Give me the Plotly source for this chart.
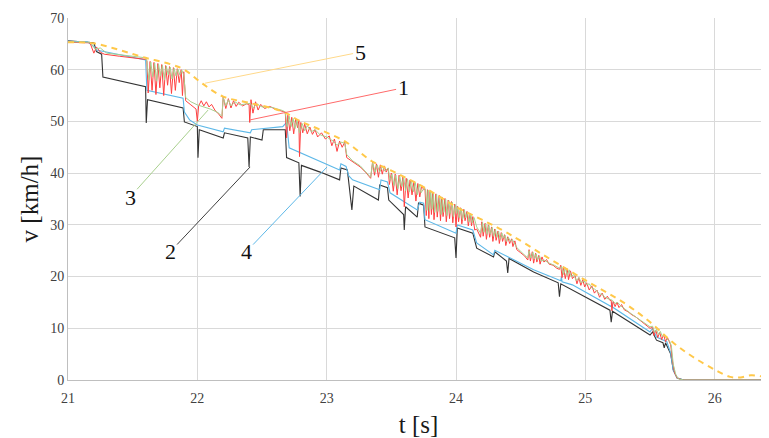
import plotly.graph_objects as go

# ---------------- data ----------------
x_ticks = [21, 22, 23, 24, 25, 26]
y_ticks = [0, 10, 20, 30, 40, 50, 60, 70]

# series 5 : dashed reference curve
s5_points = [(21.0, 65.3), (21.2, 65.1), (21.4, 63.8), (21.6, 62.3), (21.8, 61.0), (21.9, 60.0),
             (22.04, 57.3), (22.2, 54.8), (22.4, 53.6), (22.65, 52.0), (22.8, 50.0), (22.95, 48.4),
             (23.15, 46.0), (23.35, 42.3), (23.5, 40.5), (23.75, 37.3), (24.0, 33.5), (24.2, 31.0),
             (24.4, 28.4), (24.7, 23.8), (25.0, 19.3), (25.3, 14.9), (25.5, 11.2), (25.68, 7.2),
             (25.83, 4.5), (26.0, 2.0), (26.12, 0.6), (26.2, 0.5), (26.28, 0.9), (26.36, 0.7),
             (26.42, 0.3)]

# series 4 : blue
s4_points = [(21.0, 65.5), (21.15, 65.4), (21.2, 64.5), (21.22, 63.8), (21.6, 61.9), (21.61, 56.0),
             (21.89, 54.5), (21.9, 51.8), (21.94, 50.3), (22.0, 49.3), (22.2, 48.0), (22.21, 48.7),
             (22.41, 47.8), (22.42, 48.4), (22.66, 49.0), (22.69, 49.8), (22.71, 44.9), (22.95, 42.2),
             (23.1, 40.6), (23.11, 41.8), (23.15, 41.3), (23.17, 39.5), (23.2, 38.7), (23.41, 36.8),
             (23.42, 38.7), (23.47, 38.3), (23.49, 36.2), (23.7, 32.9), (23.72, 34.4), (23.75, 34.2),
             (23.76, 31.0), (24.0, 28.4), (24.01, 30.0), (24.13, 29.0), (24.16, 26.5), (24.29, 24.2),
             (24.3, 25.1), (24.6, 21.3), (24.81, 19.2), (24.815, 20.0), (24.82, 19.0), (24.9, 18.4),
             (25.2, 14.2), (25.205, 15.0), (25.21, 14.1), (25.5, 9.3), (25.52, 10.0), (25.55, 8.3),
             (25.63, 7.4), (25.66, 5.2), (25.68, 1.9), (25.71, 0.4), (25.76, 0.0), (26.42, 0.0)]

# series 2 : black
s2_points = [(21.0, 65.6), (21.2, 65.2), (21.22, 63.5), (21.26, 63.0), (21.27, 58.6), (21.6, 56.7),
             (21.605, 49.7), (21.615, 54.2), (21.89, 52.6), (21.9, 49.9), (22.0, 49.0), (22.005, 43.0),
             (22.015, 48.4), (22.2, 46.8), (22.21, 47.8), (22.39, 46.8), (22.4, 41.2), (22.41, 47.0),
             (22.5, 46.4), (22.51, 48.4), (22.68, 48.4), (22.69, 43.0), (22.785, 42.0), (22.795, 35.5),
             (22.805, 41.5), (22.95, 40.2), (23.1, 38.7), (23.11, 41.0), (23.16, 40.6), (23.17, 38.1),
             (23.195, 32.9), (23.21, 37.5), (23.4, 34.8), (23.41, 37.7), (23.47, 37.2), (23.48, 34.8),
             (23.595, 32.0), (23.6, 29.0), (23.61, 33.5), (23.7, 31.5), (23.71, 34.2), (23.75, 33.8),
             (23.76, 29.6), (23.99, 27.5), (24.0, 23.6), (24.01, 29.4), (24.13, 28.4), (24.16, 25.5),
             (24.29, 23.8), (24.3, 24.8), (24.39, 23.0), (24.4, 20.7), (24.41, 23.5), (24.6, 20.9),
             (24.79, 18.8), (24.8, 16.1), (24.81, 18.6), (25.19, 13.5), (25.2, 11.2), (25.21, 13.3),
             (25.5, 8.7), (25.52, 9.3), (25.55, 7.7), (25.6, 7.2), (25.61, 6.2), (25.62, 7.2),
             (25.66, 5.0), (25.68, 1.9), (25.71, 0.4), (25.76, 0.0), (26.42, 0.0)]

# series 1 : red
s1_points = [(21.00, 65.3), (21.17, 65.2), (21.20, 63.2), (21.22, 64.4), (21.25, 63.4), (21.28, 63.0),
             (21.40, 62.6), (21.60, 62.0),
             (21.61, 61.8), (21.62, 55.5), (21.635, 61.6), (21.65, 56.0), (21.665, 61.4), (21.68, 55.2),
             (21.695, 61.2), (21.71, 56.5), (21.725, 61.0), (21.74, 55.0), (21.755, 60.8), (21.77, 57.0),
             (21.785, 60.6), (21.80, 55.4), (21.815, 60.4), (21.83, 56.0), (21.845, 60.2), (21.86, 57.5),
             (21.875, 60.0), (21.885, 55.0), (21.895, 59.6),
             (21.91, 54.0), (21.95, 53.2), (21.99, 52.4), (22.00, 50.0), (22.01, 53.0), (22.03, 54.0),
             (22.05, 53.0), (22.07, 53.8), (22.09, 52.8), (22.11, 53.3), (22.14, 52.0), (22.16, 51.6),
             (22.19, 50.6),
             (22.20, 54.8), (22.22, 52.5), (22.24, 54.4), (22.26, 52.6), (22.28, 54.0), (22.30, 52.9),
             (22.32, 53.7), (22.35, 53.0), (22.38, 53.4), (22.40, 53.3), (22.405, 49.8), (22.415, 54.2),
             (22.43, 51.6), (22.45, 53.8), (22.47, 52.2), (22.49, 53.3), (22.52, 52.5), (22.56, 52.9),
             (22.61, 52.3), (22.66, 52.0),
             (22.68, 51.8), (22.69, 46.8), (22.70, 51.2), (22.715, 48.2), (22.73, 50.8), (22.745, 47.6),
             (22.76, 50.5), (22.775, 48.8), (22.785, 50.2), (22.79, 43.2), (22.80, 49.8), (22.815, 47.8),
             (22.83, 49.5), (22.85, 47.6), (22.87, 48.9), (22.89, 47.5), (22.91, 48.4), (22.93, 47.0),
             (22.96, 47.8), (22.99, 46.6), (23.02, 47.2), (23.04, 45.3), (23.06, 46.6), (23.08, 44.2),
             (23.10, 46.2), (23.12, 45.0), (23.14, 46.0),
             (23.155, 43.0), (23.18, 42.6), (23.22, 42.0), (23.26, 41.2), (23.30, 40.2), (23.34, 39.0),
             (23.355, 42.2), (23.37, 39.6), (23.385, 41.8), (23.40, 39.2), (23.415, 41.6), (23.43, 39.8),
             (23.445, 41.4), (23.46, 40.2), (23.475, 41.0),
             (23.485, 37.8), (23.50, 40.0), (23.515, 36.5), (23.53, 39.8), (23.545, 35.8), (23.56, 39.6),
             (23.575, 36.6), (23.59, 39.3), (23.60, 33.5), (23.615, 39.0), (23.63, 35.2), (23.645, 38.7),
             (23.66, 35.8), (23.675, 38.4), (23.69, 34.6), (23.705, 38.0), (23.72, 35.4), (23.735, 37.6),
             (23.75, 36.8),
             (23.76, 37.0), (23.77, 31.8), (23.78, 36.8), (23.79, 31.2), (23.80, 36.5), (23.81, 32.0),
             (23.82, 36.3), (23.83, 31.0), (23.845, 36.0), (23.855, 31.5), (23.87, 35.7), (23.88, 30.8),
             (23.89, 35.4), (23.90, 31.6), (23.915, 35.1), (23.925, 30.6), (23.94, 34.8), (23.95, 31.2),
             (23.965, 34.5), (23.975, 30.4), (23.99, 34.0), (24.00, 29.6), (24.01, 33.6),
             (24.02, 30.6), (24.035, 33.3), (24.045, 30.2), (24.06, 33.0), (24.07, 30.8), (24.085, 32.6),
             (24.095, 29.8), (24.11, 32.2), (24.12, 29.8), (24.13, 31.6), (24.145, 29.0), (24.16, 29.2),
             (24.18, 28.0), (24.19, 27.6), (24.20, 30.6), (24.21, 27.8), (24.225, 30.3), (24.235, 27.2),
             (24.25, 30.0), (24.26, 27.6), (24.275, 29.6), (24.285, 26.8), (24.30, 29.2), (24.31, 27.0),
             (24.325, 28.8), (24.335, 26.4), (24.35, 28.5), (24.36, 26.8), (24.375, 28.1), (24.385, 26.0),
             (24.40, 27.7), (24.415, 26.4), (24.43, 27.3), (24.44, 25.8), (24.455, 26.9), (24.47, 25.2),
             (24.50, 24.6), (24.53, 24.0), (24.555, 23.2),
             (24.565, 25.2), (24.575, 23.0), (24.59, 24.8), (24.60, 22.6), (24.615, 24.5), (24.625, 22.8),
             (24.64, 24.1), (24.65, 22.4), (24.665, 23.8), (24.68, 22.8), (24.70, 23.3), (24.72, 22.4),
             (24.75, 22.2), (24.78, 21.6), (24.80, 21.4),
             (24.81, 22.2), (24.82, 19.8), (24.83, 21.9), (24.845, 19.6), (24.86, 21.5), (24.87, 19.4),
             (24.885, 21.1), (24.90, 19.6), (24.92, 20.2), (24.935, 18.6), (24.95, 19.8), (24.965, 18.3),
             (24.98, 19.4), (24.995, 18.0), (25.01, 18.8), (25.03, 17.4), (25.05, 18.2), (25.07, 16.8),
             (25.09, 17.4), (25.11, 16.0), (25.13, 16.8), (25.15, 15.6), (25.17, 16.2), (25.19, 15.4),
             (25.20, 15.4), (25.205, 13.4), (25.215, 15.2), (25.23, 14.2), (25.245, 15.0), (25.26, 14.0),
             (25.28, 14.6), (25.30, 13.6), (25.33, 13.2), (25.36, 12.6), (25.39, 12.2), (25.42, 11.6),
             (25.45, 11.0), (25.48, 10.4), (25.50, 10.0),
             (25.52, 10.2), (25.53, 8.6), (25.545, 9.6), (25.56, 8.2), (25.575, 9.2), (25.59, 7.8),
             (25.605, 8.8), (25.62, 7.4), (25.635, 8.2), (25.65, 7.2), (25.66, 6.8), (25.675, 3.5),
             (25.69, 1.4), (25.71, 0.4), (25.75, 0.0), (26.42, 0.0)]

# series 3 : green
s3_points = [(21.00, 65.4), (21.17, 65.3), (21.21, 64.0), (21.25, 64.2), (21.30, 63.2), (21.60, 62.3),
             (21.61, 61.6), (21.625, 58.0), (21.64, 61.5), (21.655, 58.6), (21.67, 61.3), (21.685, 57.8),
             (21.70, 61.1), (21.715, 58.8), (21.73, 60.9), (21.745, 58.0), (21.76, 60.7), (21.775, 59.0),
             (21.79, 60.5), (21.805, 58.2), (21.82, 60.3), (21.835, 58.8), (21.85, 60.1), (21.865, 59.0),
             (21.88, 59.9), (21.895, 59.0),
             (21.91, 54.6), (21.95, 53.8), (22.00, 53.2), (22.05, 52.8), (22.10, 52.4), (22.16, 51.7),
             (22.19, 51.0),
             (22.20, 54.6), (22.22, 53.0), (22.24, 54.2), (22.26, 53.0), (22.29, 53.8), (22.33, 53.2),
             (22.38, 53.4), (22.41, 53.5), (22.43, 52.6), (22.46, 53.4), (22.50, 52.8), (22.58, 52.7),
             (22.66, 52.1),
             (22.68, 51.8), (22.695, 49.0), (22.71, 51.0), (22.725, 49.0), (22.74, 50.6), (22.755, 48.6),
             (22.77, 50.3), (22.79, 47.8), (22.81, 49.6), (22.83, 48.2), (22.85, 49.2), (22.88, 48.0),
             (22.91, 48.4), (22.95, 47.4), (23.00, 47.0), (23.05, 46.2), (23.08, 45.4), (23.11, 46.0),
             (23.14, 45.8),
             (23.155, 43.6), (23.20, 42.4), (23.26, 41.4), (23.30, 40.4), (23.34, 39.2), (23.355, 42.0),
             (23.375, 40.2), (23.39, 41.6), (23.41, 40.2), (23.43, 41.3), (23.45, 40.4), (23.475, 41.0),
             (23.49, 38.6), (23.505, 39.8), (23.52, 37.6), (23.535, 39.6), (23.55, 37.0), (23.565, 39.4),
             (23.58, 37.4), (23.595, 39.2), (23.61, 36.6), (23.625, 38.9), (23.64, 36.4), (23.655, 38.6),
             (23.67, 36.4), (23.685, 38.2), (23.70, 35.8), (23.715, 37.9), (23.73, 36.2), (23.75, 37.0),
             (23.765, 36.9), (23.775, 32.8), (23.785, 36.7), (23.795, 32.6), (23.805, 36.4), (23.815, 33.0),
             (23.825, 36.2), (23.835, 32.4), (23.85, 35.9), (23.86, 32.6), (23.875, 35.6), (23.885, 32.0),
             (23.895, 35.3), (23.905, 32.4), (23.92, 35.0), (23.93, 31.8), (23.945, 34.7), (23.955, 32.2),
             (23.97, 34.4), (23.98, 31.6), (23.995, 33.9), (24.005, 32.2), (24.015, 33.5),
             (24.025, 31.4), (24.04, 33.2), (24.05, 31.0), (24.065, 32.9), (24.075, 31.4), (24.09, 32.5),
             (24.10, 30.6), (24.115, 32.1), (24.125, 30.4), (24.14, 31.4), (24.16, 29.6), (24.19, 28.4),
             (24.205, 30.5), (24.215, 28.6), (24.23, 30.2), (24.24, 28.2), (24.255, 29.9), (24.265, 28.2),
             (24.28, 29.5), (24.29, 27.8), (24.305, 29.1), (24.315, 27.6), (24.33, 28.7), (24.34, 27.2),
             (24.355, 28.4), (24.365, 27.4), (24.38, 28.0), (24.39, 26.8), (24.405, 27.6), (24.42, 26.8),
             (24.435, 27.2), (24.45, 26.4), (24.47, 25.6), (24.52, 24.4), (24.555, 23.6),
             (24.565, 25.0), (24.58, 23.6), (24.595, 24.7), (24.605, 23.4), (24.62, 24.4), (24.63, 23.2),
             (24.645, 24.0), (24.66, 23.0), (24.68, 23.2), (24.72, 22.6), (24.76, 22.2), (24.80, 21.6),
             (24.815, 22.0), (24.83, 20.4), (24.845, 21.7), (24.86, 20.2), (24.875, 21.3), (24.89, 20.0),
             (24.91, 20.4), (24.93, 19.2), (24.95, 19.8), (24.97, 18.8), (24.99, 19.2), (25.01, 18.4),
             (25.03, 18.6), (25.05, 17.8), (25.07, 17.6), (25.09, 17.2), (25.11, 16.6), (25.13, 16.6),
             (25.15, 16.0), (25.18, 15.7), (25.21, 15.4), (25.23, 14.8), (25.25, 15.0), (25.27, 14.4),
             (25.30, 13.8), (25.35, 12.9), (25.40, 12.0), (25.45, 11.2), (25.50, 10.3),
             (25.52, 10.4), (25.535, 9.2), (25.55, 9.8), (25.565, 8.8), (25.58, 9.4), (25.595, 8.4),
             (25.61, 8.8), (25.63, 7.9), (25.65, 7.6), (25.665, 6.6), (25.68, 3.0), (25.70, 1.0),
             (25.72, 0.2), (25.76, 0.0), (26.42, 0.0)]

# curve labels: text, point (t, v) the leader line touches, text offset in px, colour
label_names = ["5", "1", "3", "2", "4"]
label_t = [22.06, 22.408, 22.083, 22.408, 23.003]
label_v = [57.4, 50.3, 52.2, 41.2, 41.2]
label_dx = [155, 153, -78, -80, -81]
label_dy = [-31, -32, 87, 85, 85]
label_colors = ["#FFD98A", "#FF6A6A", "#A9D08E", "#404040", "#5DB8E8"]

SERIF = "Liberation Serif, Times New Roman, serif"

# ---------------- figure ----------------
def unzip(points):
    return [p[0] for p in points], [p[1] for p in points]

fig = go.Figure()
series = [
    (s2_points, "#333333", 1.1, "2"),
    (s4_points, "#5DB8E8", 1.1, "4"),
    (s1_points, "#FF4040", 1.0, "1"),
    (s3_points, "#A9D08E", 1.0, "3"),
]
for pts, col, w, name in series:
    t, v = unzip(pts)
    fig.add_trace(go.Scatter(x=t, y=v, mode="lines", name=name,
                             line=dict(color=col, width=w)))
t5, v5 = unzip(s5_points)
fig.add_trace(go.Scatter(x=t5, y=v5, mode="lines", name="5",
                         line=dict(color="#FFC84A", width=2, dash="6px,5px", shape="spline")))

for name, t, v, dx, dy, col in zip(label_names, label_t, label_v, label_dx, label_dy, label_colors):
    fig.add_annotation(x=t, y=v, text=name, showarrow=True, arrowhead=0, arrowwidth=1,
                       arrowcolor=col, ax=dx, ay=dy,
                       font=dict(family=SERIF, size=22, color="#111111"))

# the page adds an 8 px body margin, so the figure is 8 px smaller than the window
fig.update_layout(
    width=761, height=430,
    margin=dict(l=60, r=0, t=10, b=58, autoexpand=False),
    paper_bgcolor="white", plot_bgcolor="white",
    showlegend=False,
    font=dict(family=SERIF, color="#404040"),
)
fig.update_xaxes(range=[21, 26.42], tickvals=x_ticks, showgrid=True, gridcolor="#D9D9D9",
                 gridwidth=1, showline=True, linecolor="#BFBFBF", linewidth=1, zeroline=False,
                 ticks="", ticklabelstandoff=5,
                 tickfont=dict(family=SERIF, size=14, color="#404040"), automargin=False,
                 title=dict(text="t [s]", font=dict(family=SERIF, size=25, color="#1a1a1a"), standoff=14))
fig.update_yaxes(range=[0, 70], tickvals=y_ticks, showgrid=True, gridcolor="#D9D9D9",
                 gridwidth=1, showline=True, linecolor="#BFBFBF", linewidth=1, zeroline=False,
                 ticks="", tickfont=dict(family=SERIF, size=14, color="#404040"), automargin=False,
                 title=dict(text="v [km/h]", font=dict(family=SERIF, size=25, color="#1a1a1a"), standoff=4))

fig.write_html("out.html")
